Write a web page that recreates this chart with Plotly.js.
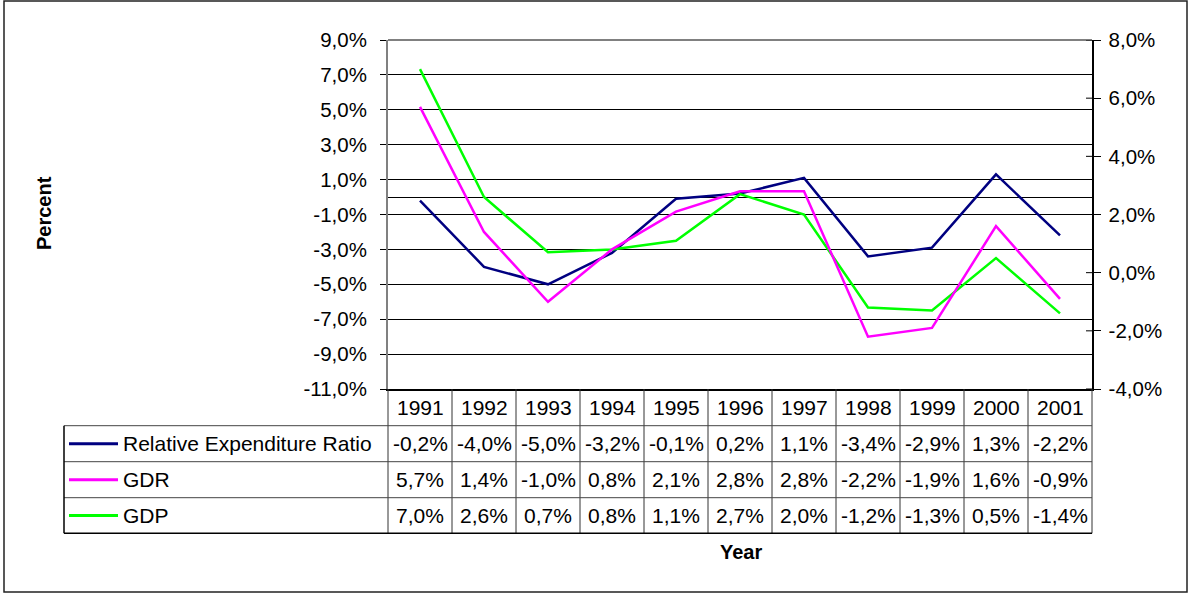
<!DOCTYPE html>
<html>
<head>
<meta charset="utf-8">
<script src="https://cdn.plot.ly/plotly-3.0.1.min.js"></script>
<style>
  html, body { margin: 0; padding: 0; background: #fff; }
  #chart { width: 1189px; height: 593px; }
</style>
</head>
<body>
<div id="chart"></div>
<script>
const years = ['1991', '1992', '1993', '1994', '1995', '1996', '1997', '1998', '1999', '2000', '2001'];
const relExpRatio = [-0.2, -4.0, -5.0, -3.2, -0.1, 0.2, 1.1, -3.4, -2.9, 1.3, -2.2];
const gdr = [5.7, 1.4, -1.0, 0.8, 2.1, 2.8, 2.8, -2.2, -1.9, 1.6, -0.9];
const gdp = [7.0, 2.6, 0.7, 0.8, 1.1, 2.7, 2.0, -1.2, -1.3, 0.5, -1.4];

const seriesNames = ['Relative Expenditure Ratio', 'GDR', 'GDP'];
const seriesColors = ['#000080', '#ff00ff', '#00ff00'];

const leftTicks = [-11, -9, -7, -5, -3, -1, 1, 3, 5, 7, 9];
const leftTickText = ['-11,0%', '-9,0%', '-7,0%', '-5,0%', '-3,0%', '-1,0%', '1,0%', '3,0%', '5,0%', '7,0%', '9,0%'];
const rightTicks = [-4, -2, 0, 2, 4, 6, 8];
const rightTickText = ['-4,0%', '-2,0%', '0,0%', '2,0%', '4,0%', '6,0%', '8,0%'];

// plot area in pixels, everything else is placed relative to it
const L = 388, R = 1092, T = 40, B = 389;
const px = (x) => (x - L) / (R - L);
const py = (y) => (B - y) / (B - T);
// centre of a category column, in paper units
const colMid = (i) => (i + 0.5) / years.length;

const FONT = 'Liberation Sans, Arial, sans-serif';
const TABLE_SIZE = 21;

function fmt(v) {
  return v.toFixed(1).replace('.', ',') + '%';
}

const allSeries = [relExpRatio, gdr, gdp];
const axesFor = ['y', 'y2', 'y2'];

// Excel draws GDP before GDR, expenditure ratio on top
const data = [2, 1, 0].map((k) => ({
  x: years,
  y: allSeries[k],
  yaxis: axesFor[k],
  name: seriesNames[k],
  type: 'scatter',
  mode: 'lines',
  line: { color: seriesColors[k], width: 2.5 },
  showlegend: false,
  hoverinfo: 'skip'
}));

const rowTop = [389, 425.7, 461.7, 497.7, 533.3];
const rowMid = (r) => (rowTop[r] + rowTop[r + 1]) / 2;

const shapes = [];
const annotations = [];

// outer chart frame
shapes.push({
  type: 'rect', xref: 'paper', yref: 'paper',
  x0: px(4), x1: px(1187), y0: py(592), y1: py(1),
  line: { color: '#222', width: 1.5 }
});
// plot area top border
shapes.push({
  type: 'line', xref: 'paper', yref: 'paper',
  x0: 0, x1: 1, y0: 1, y1: 1,
  line: { color: '#808080', width: 2 }
});

// data table grid
for (let k = 0; k <= years.length; k++) {
  shapes.push({
    type: 'line', xref: 'paper', yref: 'paper',
    x0: k / years.length, x1: k / years.length, y0: py(rowTop[0]), y1: py(rowTop[4]),
    line: { color: '#333', width: 1 }
  });
}
for (let r = 1; r < rowTop.length; r++) {
  shapes.push({
    type: 'line', xref: 'paper', yref: 'paper',
    x0: px(64), x1: 1, y0: py(rowTop[r]), y1: py(rowTop[r]),
    line: { color: r === 4 ? '#000' : '#444', width: r === 4 ? 1.5 : 1 }
  });
}
shapes.push({
  type: 'line', xref: 'paper', yref: 'paper',
  x0: px(64), x1: px(64), y0: py(rowTop[1]), y1: py(rowTop[4]),
  line: { color: '#000', width: 1.5 }
});

// right axis cross ticks (inner half)
rightTicks.forEach((t) => {
  shapes.push({
    type: 'line', xref: 'paper', yref: 'y2',
    x0: 1, x1: 1 - 6 / (R - L), y0: t, y1: t,
    line: { color: '#000', width: 1 }
  });
});

years.forEach((yr, i) => {
  annotations.push({
    x: colMid(i), xref: 'paper', y: py(rowMid(0)), yref: 'paper',
    text: yr, showarrow: false, xanchor: 'center', yanchor: 'middle',
    font: { family: FONT, size: TABLE_SIZE, color: '#000' }
  });
});

allSeries.forEach((vals, k) => {
  const ym = py(rowMid(k + 1));
  shapes.push({
    type: 'line', xref: 'paper', yref: 'paper',
    x0: px(69), x1: px(118), y0: ym, y1: ym,
    line: { color: seriesColors[k], width: 3 }
  });
  annotations.push({
    x: px(121), xref: 'paper', y: ym, yref: 'paper',
    text: seriesNames[k], showarrow: false, xanchor: 'left', yanchor: 'middle',
    font: { family: FONT, size: TABLE_SIZE, color: '#000' }
  });
  vals.forEach((v, i) => {
    annotations.push({
      x: colMid(i), xref: 'paper', y: ym, yref: 'paper',
      text: fmt(v), showarrow: false, xanchor: 'center', yanchor: 'middle',
      font: { family: FONT, size: TABLE_SIZE, color: '#000' }
    });
  });
});

annotations.push({
  x: px(44), xref: 'paper', y: py(213), yref: 'paper',
  text: '<b>Percent</b>', textangle: -90, showarrow: false,
  xanchor: 'center', yanchor: 'middle',
  font: { family: FONT, size: 20, color: '#000' }
});
annotations.push({
  x: px(741), xref: 'paper', y: py(552), yref: 'paper',
  text: '<b>Year</b>', showarrow: false,
  xanchor: 'center', yanchor: 'middle',
  font: { family: FONT, size: 20, color: '#000' }
});

const layout = {
  width: 1189,
  height: 593,
  margin: { l: L, r: 1189 - R, t: T, b: 593 - B, pad: 0 },
  paper_bgcolor: '#fff',
  plot_bgcolor: '#fff',
  showlegend: false,
  font: { family: FONT, size: 20, color: '#000' },
  xaxis: {
    type: 'category',
    range: [-0.5, years.length - 0.5],
    showticklabels: false,
    ticks: '',
    showgrid: false,
    zeroline: false,
    showline: true,
    linecolor: '#000',
    linewidth: 1.5,
    fixedrange: true
  },
  yaxis: {
    range: [-11, 9],
    tickvals: leftTicks,
    ticktext: leftTickText,
    ticks: 'outside',
    ticklen: 6,
    tickcolor: '#000',
    ticklabelstandoff: 9,
    showgrid: true,
    gridcolor: '#000',
    gridwidth: 1,
    zeroline: true,
    zerolinecolor: '#000',
    zerolinewidth: 1,
    showline: true,
    linecolor: '#808080',
    linewidth: 2,
    tickfont: { family: FONT, size: 20.5, color: '#000' },
    fixedrange: true
  },
  yaxis2: {
    overlaying: 'y',
    side: 'right',
    range: [-4, 8],
    tickvals: rightTicks,
    ticktext: rightTickText,
    ticks: 'outside',
    ticklen: 7,
    tickcolor: '#000',
    ticklabelstandoff: 4,
    showgrid: false,
    zeroline: false,
    showline: true,
    linecolor: '#000',
    linewidth: 1.5,
    tickfont: { family: FONT, size: 20.5, color: '#000' },
    fixedrange: true
  },
  shapes,
  annotations
};

Plotly.newPlot('chart', data, layout, { displayModeBar: false, staticPlot: true });
</script>
</body>
</html>
